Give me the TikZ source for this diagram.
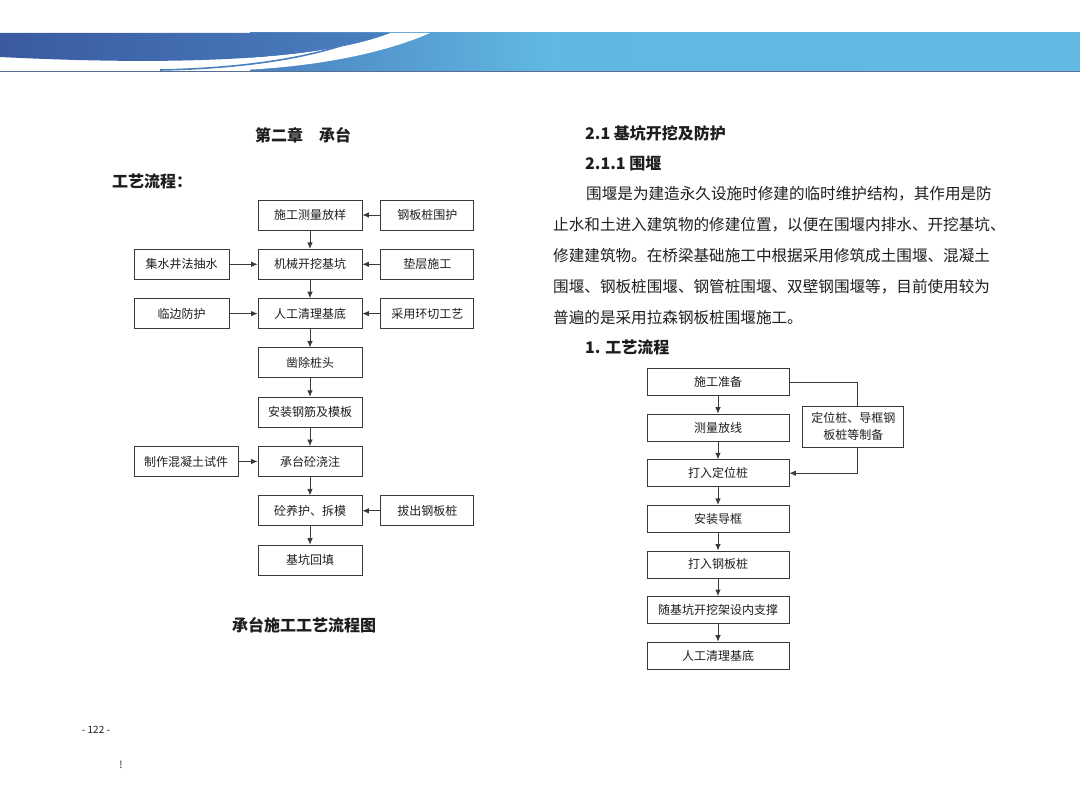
\documentclass[tikz,border=0pt]{standalone}
\usepackage{fontspec}
\newfontfamily\cjk{Noto Sans CJK SC}
\usetikzlibrary{arrows.meta,positioning}
\definecolor{bnrdark}{HTML}{3A5AA2}
\definecolor{bnrmid}{HTML}{4A80C0}
\definecolor{bnrlight}{HTML}{62BAE4}
\definecolor{bnrrule}{HTML}{5A6E92}
\definecolor{boxline}{HTML}{3A3A3A}
\definecolor{inktext}{HTML}{1E1E1E}
\tikzset{
  flow/.style={draw=boxline, line width=0.8pt, inner sep=1pt, align=center,
               font=\cjk\fontsize{12}{16.5}\selectfont, text=inktext},
  mainbox/.style={flow, minimum width=104pt, minimum height=30pt},
  sidebox/.style={flow, minimum width=93pt, minimum height=30pt},
  leftbox/.style={flow, minimum width=95pt, minimum height=30pt},
  rbox/.style={flow, minimum width=142pt, minimum height=27pt},
  head/.style={inner sep=0pt, text=inktext, font=\cjk\bfseries\fontsize{16}{18}\selectfont},
  para/.style={anchor=west, inner sep=0pt, text=inktext, font=\cjk\fontsize{15.6}{18}\selectfont},
  arr/.style={-{Latex[length=6.5pt,width=5.5pt]}, line width=0.8pt, draw=boxline},
  link/.style={line width=0.8pt, draw=boxline},
}

\begin{document}
\begin{tikzpicture}[x=1pt, y=-1pt]
  \useasboundingbox (0,0) rectangle (1080,802);
  % banner
  \shade[left color=bnrmid, right color=bnrlight] (250,33) rectangle (560,72);
  \shade[left color=bnrlight!95!bnrmid, right color=bnrlight] (560,33) rectangle (1080,72);
  \fill[white] (0,57) .. controls (180,66) and (320,60) .. (390,33) -- (430,33)
      .. controls (380,55) and (300,71) .. (200,71) -- (0,69) -- cycle;
  \shade[left color=bnrdark, right color=bnrmid] (0,33) -- (390,33)
      .. controls (320,60) and (180,66) .. (0,57) -- cycle;
  \draw[bnrmid, line width=1.6pt] (160,70) .. controls (260,68) and (320,54) .. (355,41);
  \draw[bnrrule, line width=1pt] (0,71.5) -- (1080,71.5);

  % left page
  \node[head] (chap) at (303,135) {第二章\hspace{1em}承台};
  \node[head, anchor=west] (flowtitle) at (112,181) {工艺流程：};

  \node[mainbox] (survey) at (310,215) {施工测量放样};
  \node[mainbox, below=18.5pt of survey] (dig)    {机械开挖基坑};
  \node[mainbox, below=18.5pt of dig]    (clean)  {人工清理基底};
  \node[mainbox, below=18.5pt of clean]  (chisel) {凿除桩头};
  \node[mainbox, below=18.5pt of chisel] (rebar)  {安装钢筋及模板};
  \node[mainbox, below=18.5pt of rebar]  (pour)   {承台砼浇注};
  \node[mainbox, below=18.5pt of pour]   (cure)   {砼养护、拆模};
  \node[mainbox, below=18.5pt of cure]   (fill)   {基坑回填};

  \node[sidebox, right=18pt of survey] (sheet)  {钢板桩围护};
  \node[sidebox, right=18pt of dig]    (cushion){垫层施工};
  \node[sidebox, right=18pt of clean]  (ringcut){采用环切工艺};
  \node[sidebox, right=18pt of cure]   (pull)   {拔出钢板桩};
  \node[leftbox, left=28pt of dig]     (sump)   {集水井法抽水};
  \node[leftbox, left=28pt of clean]   (edge)   {临边防护};
  \node[mainbox, left=19pt of pour]    (sample) {制作混凝土试件};

  \draw[arr] (survey) -- (dig);
  \draw[arr] (dig)    -- (clean);
  \draw[arr] (clean)  -- (chisel);
  \draw[arr] (chisel) -- (rebar);
  \draw[arr] (rebar)  -- (pour);
  \draw[arr] (pour)   -- (cure);
  \draw[arr] (cure)   -- (fill);
  \draw[arr] (sheet)   -- (survey);
  \draw[arr] (cushion) -- (dig);
  \draw[arr] (ringcut) -- (clean);
  \draw[arr] (pull)    -- (cure);
  \draw[arr] (sump)    -- (dig);
  \draw[arr] (edge)    -- (clean);
  \draw[arr] (sample)  -- (pour);

  \node[head] (caption) at (304,625) {承台施工工艺流程图};
  \node[inner sep=0pt, text=inktext, font=\cjk\fontsize{10}{11}\selectfont] (pageno) at (96,730) {- 122 -};
  \node[inner sep=0pt, text=inktext, font=\cjk\fontsize{10}{11}\selectfont] (mark) at (121,765) {!};

  % right page
  \node[head, anchor=west] (sec)    at (585,133) {2.1 基坑开挖及防护};
  \node[head, anchor=west] (subsec) at (585,164) {2.1.1 围堰};
  \node[para] (line1) at (586,194) {围堰是为建造永久设施时修建的临时维护结构，其作用是防};
  \node[para] (line2) at (553,225) {止水和土进入建筑物的修建位置，以便在围堰内排水、开挖基坑、};
  \node[para] (line3) at (553,256) {修建建筑物。在桥梁基础施工中根据采用修筑成土围堰、混凝土};
  \node[para] (line4) at (553,287) {围堰、钢板桩围堰、钢管桩围堰、双壁钢围堰等，目前使用较为};
  \node[para] (line5) at (553,318) {普遍的是采用拉森钢板桩围堰施工。};
  \node[head, anchor=west] (step) at (585,347) {1. 工艺流程};

  \node[rbox] (prep) at (718,382) {施工准备};
  \node[rbox, below=17.8pt of prep]  (stake)  {测量放线};
  \node[rbox, below=17.8pt of stake] (locate) {打入定位桩};
  \node[rbox, below=17.8pt of locate](guide)  {安装导框};
  \node[rbox, below=17.8pt of guide] (drive)  {打入钢板桩};
  \node[rbox, below=17.8pt of drive] (brace)  {随基坑开挖架设内支撑};
  \node[rbox, below=17.8pt of brace] (base)   {人工清理基底};
  \node[flow, minimum width=101pt, minimum height=41pt, right=13pt of stake, yshift=1pt] (make)
       {定位桩、导框钢\\板桩等制备};
  \coordinate (makein)  at ([xshift=4pt]make.north);
  \coordinate (makeout) at ([xshift=4pt]make.south);

  \draw[arr] (prep)   -- (stake);
  \draw[arr] (stake)  -- (locate);
  \draw[arr] (locate) -- (guide);
  \draw[arr] (guide)  -- (drive);
  \draw[arr] (drive)  -- (brace);
  \draw[arr] (brace)  -- (base);
  \draw[link] (prep) -| (makein);
  \draw[arr] (makeout) |- (locate);
\end{tikzpicture}
\end{document}
